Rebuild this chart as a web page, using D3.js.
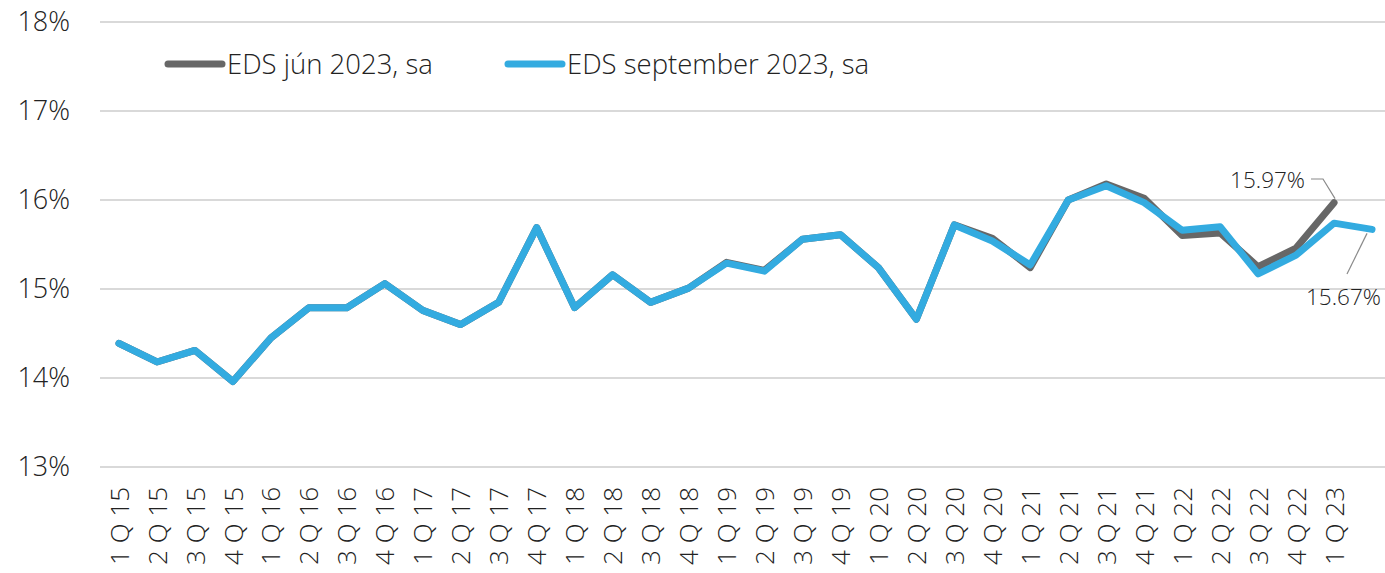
<!DOCTYPE html>
<html>
<head>
<meta charset="utf-8">
<script src="https://cdn.jsdelivr.net/npm/d3@7"></script>
<style>
  body { margin: 0; background: #fff; }
  svg { display: block; font-family: "Open Sans", "Noto Sans", sans-serif; font-weight: 300; }
</style>
</head>
<body>
<div id="chart"></div>
<script>
// quarter labels (the last point has no label in the source)
var quarters = ["1 Q 15","2 Q 15","3 Q 15","4 Q 15","1 Q 16","2 Q 16","3 Q 16","4 Q 16",
  "1 Q 17","2 Q 17","3 Q 17","4 Q 17","1 Q 18","2 Q 18","3 Q 18","4 Q 18",
  "1 Q 19","2 Q 19","3 Q 19","4 Q 19","1 Q 20","2 Q 20","3 Q 20","4 Q 20",
  "1 Q 21","2 Q 21","3 Q 21","4 Q 21","1 Q 22","2 Q 22","3 Q 22","4 Q 22","1 Q 23",""];

// EDS jun 2023, sa (ends 1 Q 23)
var edsJun = [14.39,14.18,14.31,13.96,14.45,14.79,14.79,15.06,
  14.76,14.60,14.85,15.69,14.79,15.16,14.85,15.01,
  15.30,15.21,15.56,15.61,15.24,14.66,15.72,15.57,
  15.24,16.00,16.18,16.02,15.60,15.63,15.25,15.46,15.97];

// EDS september 2023, sa (ends 2 Q 23)
var edsSep = [14.39,14.18,14.31,13.96,14.45,14.79,14.79,15.06,
  14.76,14.60,14.85,15.69,14.79,15.16,14.85,15.01,
  15.29,15.20,15.56,15.61,15.24,14.66,15.72,15.54,
  15.27,16.00,16.16,15.97,15.66,15.70,15.17,15.38,15.74,15.67];

var yTicks = [13, 14, 15, 16, 17, 18];

var W = 1385, H = 573;
var margin = {top: 22, left: 100};

var svg = d3.select("#chart").append("svg")
    .attr("width", W)
    .attr("height", H);

// the plot runs slightly past the right edge, like in the source
var x = d3.scalePoint()
    .domain(d3.range(quarters.length))
    .range([119, 119 + 33 * 37.97]);

var y = d3.scaleLinear()
    .domain([13, 18])
    .range([467, 22]);

// gridlines
svg.append("g")
    .selectAll("line")
    .data(yTicks)
    .enter().append("line")
    .attr("x1", margin.left)
    .attr("x2", W)
    .attr("y1", function(d) { return y(d); })
    .attr("y2", function(d) { return y(d); })
    .attr("stroke", "#d9d9d9")
    .attr("stroke-width", 2);

// y axis labels
var yAxis = svg.append("g")
    .attr("transform", "translate(70,0)")
    .call(d3.axisLeft(y).tickValues(yTicks).tickSize(0).tickPadding(0)
      .tickFormat(function(d) { return d + "%"; }));
yAxis.select(".domain").remove();
yAxis.selectAll("text")
    .attr("font-size", 27)
    .attr("fill", "#222")
    .attr("font-family", "'Open Sans', sans-serif");

// x axis labels, rotated
var xAxis = svg.append("g")
    .attr("transform", "translate(0,482)")
    .call(d3.axisBottom(x).tickSize(0).tickFormat(function(i) { return quarters[i]; }));
xAxis.select(".domain").remove();
xAxis.selectAll("text")
    .attr("font-size", 26)
    .attr("fill", "#222")
    .attr("font-family", "'Open Sans', sans-serif")
    .attr("text-anchor", "end")
    .attr("dy", "0.35em")
    .attr("transform", "rotate(-90)")
    .attr("x", -5)
    .attr("y", 0);

var line = d3.line()
    .x(function(d, i) { return x(i); })
    .y(function(d) { return y(d); });

svg.append("path")
    .datum(edsJun)
    .attr("fill", "none")
    .attr("stroke", "#676767")
    .attr("stroke-width", 7)
    .attr("stroke-linejoin", "round")
    .attr("stroke-linecap", "round")
    .attr("d", line);

svg.append("path")
    .datum(edsSep)
    .attr("fill", "none")
    .attr("stroke", "#33abe0")
    .attr("stroke-width", 7)
    .attr("stroke-linejoin", "round")
    .attr("stroke-linecap", "round")
    .attr("d", line);

// legend
var legend = [
  {name: "EDS jún 2023, sa", color: "#676767", x: 168},
  {name: "EDS september 2023, sa", color: "#33abe0", x: 508}
];
var lg = svg.append("g").selectAll("g")
    .data(legend)
    .enter().append("g")
    .attr("transform", function(d) { return "translate(" + d.x + ",64)"; });
lg.append("line")
    .attr("x1", 0).attr("x2", 54)
    .attr("stroke", function(d) { return d.color; })
    .attr("stroke-width", 7)
    .attr("stroke-linecap", "round");
lg.append("text")
    .attr("x", 59)
    .attr("dy", "0.35em")
    .attr("font-size", 27.5)
    .attr("fill", "#222")
    .text(function(d) { return d.name; });

// data labels with leader lines
var lastJun = edsJun.length - 1, lastSep = edsSep.length - 1;
svg.append("path")
    .attr("fill", "none")
    .attr("stroke", "#8a8a8a")
    .attr("stroke-width", 1.2)
    .attr("d", "M1311,179 L1323,179 L" + (x(lastJun) + 1) + "," + (y(edsJun[lastJun]) - 4));
svg.append("text")
    .attr("x", 1305)
    .attr("y", 188)
    .attr("text-anchor", "end")
    .attr("font-size", 22.5)
    .attr("fill", "#222")
    .text(edsJun[lastJun].toFixed(2) + "%");

svg.append("path")
    .attr("fill", "none")
    .attr("stroke", "#8a8a8a")
    .attr("stroke-width", 1.2)
    .attr("d", "M1347,274 L" + (x(lastSep) - 5) + "," + (y(edsSep[lastSep]) + 4));
svg.append("text")
    .attr("x", 1306)
    .attr("y", 305)
    .attr("font-size", 22.5)
    .attr("fill", "#222")
    .text(edsSep[lastSep].toFixed(2) + "%");
</script>
</body>
</html>
